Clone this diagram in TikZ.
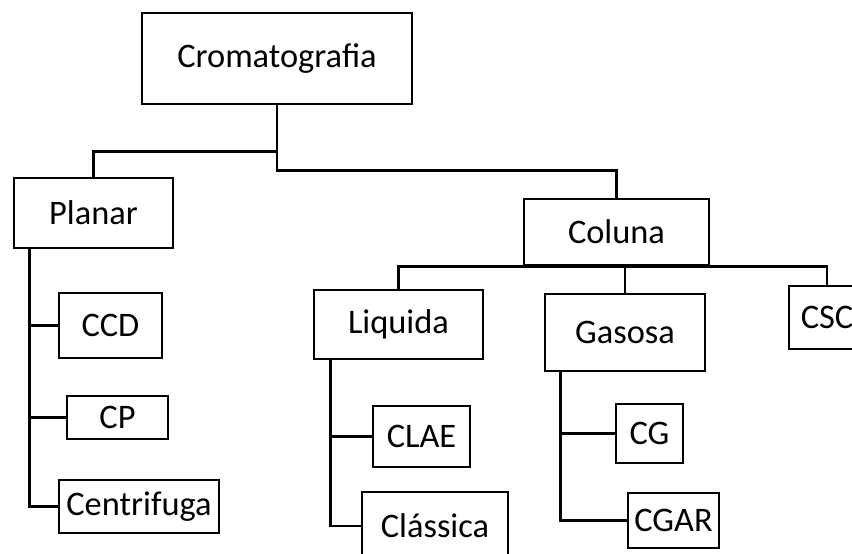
\documentclass[tikz,border=0pt]{standalone}
\usepackage{fontspec}
\setmainfont{Carlito}
\begin{document}
\begin{tikzpicture}[x=1pt, y=-1pt,
  caixa/.style={shape=rectangle, draw=black, line width=2.9pt, inner sep=0pt, font=\fontsize{34.4}{40}\selectfont},
  liga/.style={-, line width=2.9pt, draw=black}]
\useasboundingbox (0,0) rectangle (852,554);
\clip (0,0) rectangle (852,554);
\node[caixa, minimum width=270, minimum height=91] (crom) at (277,58.5) {Cromatografia};
\node[caixa, minimum width=159, minimum height=70] (planar) at (93.5,213) {Planar};
\node[caixa, minimum width=185, minimum height=66] (coluna) at (616.5,232) {Coluna};
\node[caixa, minimum width=169, minimum height=69] (liquida) at (398.5,324.5) {Liquida};
\node[caixa, minimum width=160, minimum height=77] (gasosa) at (625,332.5) {Gasosa};
\node[caixa, minimum width=76, minimum height=63] (csc) at (827,317.5) {CSC};
\node[caixa, minimum width=103, minimum height=65] (ccd) at (110.5,325.5) {CCD};
\node[caixa, minimum width=101, minimum height=43] (cp) at (117.5,417.5) {CP};
\node[caixa, minimum width=160, minimum height=53] (centrifuga) at (139,506.5) {Centrifuga};
\node[caixa, minimum width=97, minimum height=61] (clae) at (421.5,436.5) {CLAE};
\node[caixa, minimum width=146, minimum height=68] (classica) at (435,526) {Clássica};
\node[caixa, minimum width=67, minimum height=59] (cg) at (649.5,433.5) {CG};
\node[caixa, minimum width=91, minimum height=55] (cgar) at (673.5,520.5) {CGAR};
\draw[liga] (crom.south) -- ++(0,46) -| (planar.north);
\draw[liga] (crom.south) -- ++(0,65) -| (coluna.north);
\draw[liga] (liquida.north) |- (coluna.south) -| (csc.north);
\draw[liga] (gasosa.north) -- (gasosa.north |- coluna.south);
\draw[liga] ([xshift=17]planar.south west) |- (ccd.west);
\draw[liga] ([xshift=17]planar.south west) |- (cp.west);
\draw[liga] ([xshift=17]planar.south west) |- (centrifuga.west);
\draw[liga] ([xshift=18]liquida.south west) |- (clae.west);
\draw[liga] ([xshift=18]liquida.south west) |- (classica.west);
\draw[liga] ([xshift=17]gasosa.south west) |- (cg.west);
\draw[liga] ([xshift=17]gasosa.south west) |- (cgar.west);
\end{tikzpicture}
\end{document}
